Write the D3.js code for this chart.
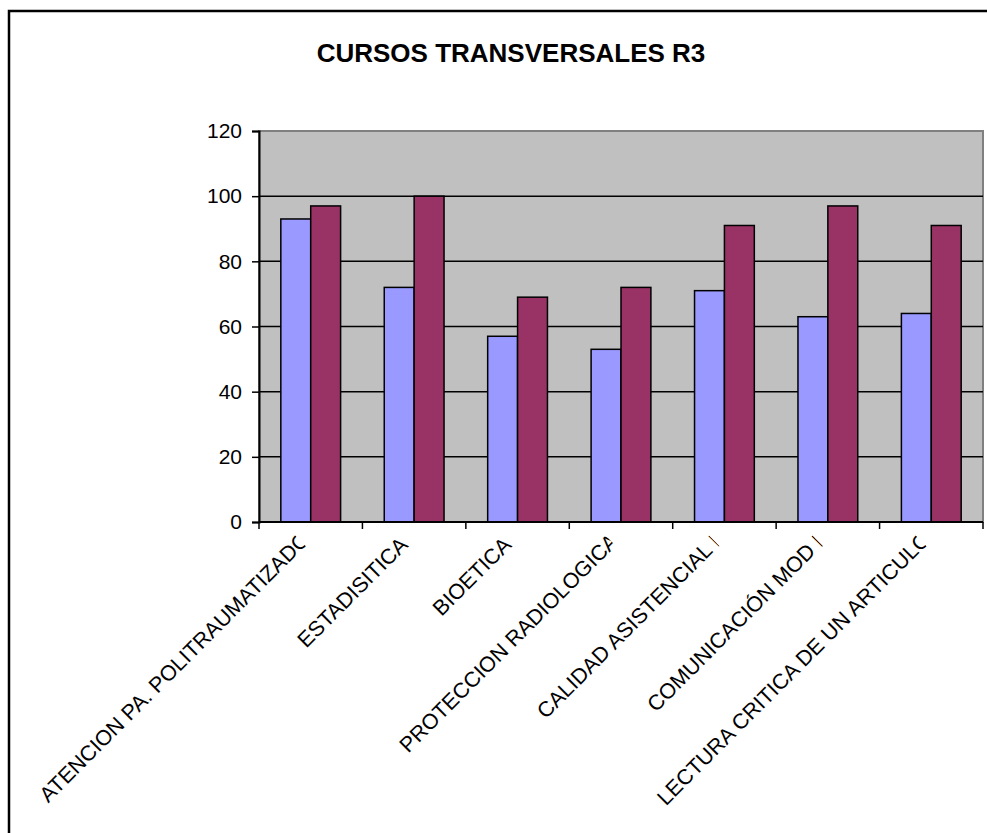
<!DOCTYPE html>
<html>
<head>
<meta charset="utf-8">
<script src="https://cdn.jsdelivr.net/npm/d3@7"></script>
<style>
    body { margin: 0; background: #fff; }
    svg { display: block; font-family: "Liberation Sans", Arial, sans-serif; }
</style>
</head>
<body>
<svg id="chart" width="987" height="833"></svg>
<script>
const cursos = [
    "ATENCION PA. POLITRAUMATIZADO",
    "ESTADISITICA",
    "BIOETICA",
    "PROTECCION RADIOLOGICA",
    "CALIDAD ASISTENCIAL I",
    "COMUNICACIÓN MOD I",
    "LECTURA CRITICA DE UN ARTICULO"
];
const serie1 = [93, 72, 57, 53, 71, 63, 64];
const serie2 = [97, 100, 69, 72, 91, 97, 91];
const yTicks = [0, 20, 40, 60, 80, 100, 120];

function drawChart() {
    const svg = d3.select("#chart");
    const plot = {left: 259, right: 983, top: 131, bottom: 522};

    // outer frame of the chart object
    svg.append("rect")
        .attr("x", 9).attr("y", 11)
        .attr("width", 1000).attr("height", 900)
        .attr("fill", "none")
        .attr("stroke", "#000")
        .attr("stroke-width", 2.5);

    svg.append("text")
        .attr("x", 511)
        .attr("y", 62)
        .attr("text-anchor", "middle")
        .style("font-size", "26px")
        .style("font-weight", "bold")
        .text("CURSOS TRANSVERSALES R3");

    const x0 = d3.scaleBand().domain(cursos).range([plot.left, plot.right]);
    const x1 = d3.scaleBand().domain([0, 1]).range([0, x0.bandwidth()]).paddingOuter(0.73);
    const y = d3.scaleLinear().domain([0, 120]).range([plot.bottom, plot.top]);

    svg.append("rect")
        .attr("x", plot.left).attr("y", plot.top)
        .attr("width", plot.right - plot.left)
        .attr("height", plot.bottom - plot.top)
        .attr("fill", "#c0c0c0")
        .attr("stroke", "#808080")
        .attr("stroke-width", 2);

    svg.append("g")
        .selectAll("line")
        .data(yTicks.filter((d) => d > 0 && d < 120))
        .join("line")
        .attr("x1", plot.left).attr("x2", plot.right)
        .attr("y1", (d) => y(d)).attr("y2", (d) => y(d))
        .attr("stroke", "#000")
        .attr("stroke-width", 1.5);

    const groups = svg.append("g")
        .selectAll("g")
        .data(cursos.map((c, i) => ({curso: c, vals: [serie1[i], serie2[i]]})))
        .join("g")
        .attr("transform", (d) => `translate(${x0(d.curso)},0)`);

    groups.selectAll("rect")
        .data((d) => d.vals.map((v, k) => ({k: k, v: v})))
        .join("rect")
        .attr("x", (d) => x1(d.k))
        .attr("width", x1.bandwidth())
        .attr("y", (d) => y(d.v))
        .attr("height", (d) => y(0) - y(d.v))
        .attr("fill", (d) => d.k === 0 ? "#9999ff" : "#993366")
        .attr("stroke", "#000")
        .attr("stroke-width", 1.5);

    // y axis
    const yAxis = svg.append("g")
        .attr("transform", `translate(${plot.left},0)`)
        .call(d3.axisLeft(y).tickValues(yTicks).tickSize(7).tickPadding(10));
    yAxis.select(".domain").attr("stroke", "#000").attr("stroke-width", 2);
    yAxis.selectAll(".tick line").attr("stroke-width", 1.5);
    yAxis.selectAll("text")
        .style("font-size", "21px")
        .style("font-family", "'Liberation Sans', Arial, sans-serif")
        .attr("fill", "#000");

    // x axis with ticks at category boundaries
    const bounds = cursos.map((c) => x0(c)).concat([plot.right]);
    svg.append("line")
        .attr("x1", plot.left).attr("x2", plot.right)
        .attr("y1", plot.bottom).attr("y2", plot.bottom)
        .attr("stroke", "#000").attr("stroke-width", 2);
    svg.append("g")
        .selectAll("line")
        .data(bounds)
        .join("line")
        .attr("x1", (d) => d).attr("x2", (d) => d)
        .attr("y1", plot.bottom).attr("y2", plot.bottom + 7)
        .attr("stroke", "#000").attr("stroke-width", 1.5);

    // category labels: rotated, long ones cut at the tick like the original
    svg.append("defs").append("clipPath")
        .attr("id", "labclip")
        .append("rect")
        .attr("x", -700).attr("y", -40)
        .attr("width", 700).attr("height", 60);

    const labels = svg.append("g")
        .selectAll("g")
        .data(cursos)
        .join("g")
        .attr("transform", (d) => `translate(${x0(d) + x0.bandwidth() / 2 - 5},546) rotate(-45)`);

    labels.append("text")
        .attr("clip-path", "url(#labclip)")
        .attr("text-anchor", "end")
        .style("font-size", "21.5px")
        .text((d) => d)
        .attr("x", function () {
            return Math.max(0, this.getComputedTextLength() * 0.035 - 5.5);
        });
}

drawChart();
</script>
</body>
</html>
